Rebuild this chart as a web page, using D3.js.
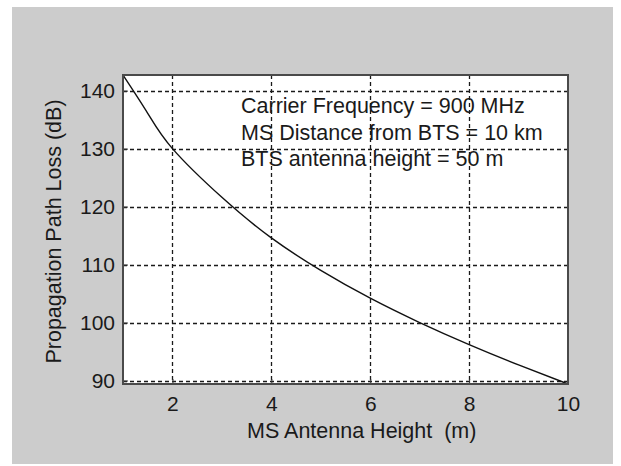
<!DOCTYPE html>
<html>
<head>
<meta charset="utf-8">
<script src="https://cdn.jsdelivr.net/npm/d3@7"></script>
<style>
  html, body { margin: 0; padding: 0; background: #ffffff; }
  svg { display: block; }
  text { font-family: "Liberation Sans", Arial, sans-serif; fill: #1a1a1a; white-space: pre; }
</style>
</head>
<body>
<svg id="chart" width="621" height="466"></svg>
<script>
// Data
const heights = [1, 1.5, 2, 3, 4, 5, 6, 7, 8, 9, 10];                       // MS antenna height (m)
const pathLoss = [142.7, 136.1, 130.0, 121.6, 114.6, 109.0, 104.2, 100.0, 96.2, 92.7, 89.4]; // dB
const xTicks = [2, 4, 6, 8, 10];
const yTicks = [90, 100, 110, 120, 130, 140];
const annotations = [
  "Carrier Frequency = 900 MHz",
  "MS Distance from BTS = 10 km",
  "BTS antenna height = 50 m"
];
const xTitle = "MS Antenna Height  (m)";
const yTitle = "Propagation Path Loss (dB)";

const svg = d3.select("#chart");
// figure background
svg.append("rect").attr("x", 12).attr("y", 7).attr("width", 601).attr("height", 457).attr("fill", "#cccccc");

const plot = { left: 123, right: 568, top: 75, bottom: 384 };
const x = d3.scaleLinear().domain(d3.extent(heights)).range([plot.left, plot.right]);
const y = d3.scaleLinear().domain(d3.extent(pathLoss)).range([plot.bottom, plot.top]);

// plot area
svg.append("rect")
  .attr("x", plot.left).attr("y", plot.top)
  .attr("width", plot.right - plot.left).attr("height", plot.bottom - plot.top)
  .attr("fill", "#ffffff");

// grid
const grid = svg.append("g").attr("stroke", "#1a1a1a").attr("stroke-width", 1.3).attr("stroke-dasharray", "4,3");
grid.selectAll("line.v").data(xTicks.filter(d => d < 10)).join("line")
  .attr("x1", d => Math.round(x(d)) + 0.5).attr("x2", d => Math.round(x(d)) + 0.5)
  .attr("y1", plot.top).attr("y2", plot.bottom);
grid.selectAll("line.h").data(yTicks).join("line")
  .attr("y1", d => Math.round(y(d)) + 0.5).attr("y2", d => Math.round(y(d)) + 0.5)
  .attr("x1", plot.left).attr("x2", plot.right);

// curve
const line = d3.line().x((d, i) => x(heights[i])).y(d => y(d)).curve(d3.curveNatural);
svg.append("path").datum(pathLoss).attr("d", line)
  .attr("fill", "none").attr("stroke", "#111").attr("stroke-width", 1.4);

// axes with inward ticks
const xAxis = d3.axisBottom(x).tickValues(xTicks).tickSize(-5).tickPadding(12).tickFormat(d3.format("d"));
const yAxis = d3.axisLeft(y).tickValues(yTicks).tickSize(-5).tickPadding(8).tickFormat(d3.format("d"));
const gx = svg.append("g").attr("transform", `translate(0,${plot.bottom})`).call(xAxis);
const gy = svg.append("g").attr("transform", `translate(${plot.left},0)`).call(yAxis);
[gx, gy].forEach(g => {
  g.select(".domain").remove();
  g.selectAll(".tick line").attr("stroke", "#333");
  g.selectAll(".tick text").style("font-size", "21px").attr("fill", "#1a1a1a");
});
gx.selectAll(".tick text").attr("dy", "0.71em");

// box
svg.append("rect")
  .attr("x", plot.left).attr("y", plot.top)
  .attr("width", plot.right - plot.left).attr("height", plot.bottom - plot.top)
  .attr("fill", "none").attr("stroke", "#4a4a4a").attr("stroke-width", 2);

// annotation text
svg.append("g").selectAll("text").data(annotations).join("text")
  .attr("x", 241).attr("y", (d, i) => 113 + i * 26.5)
  .style("font-size", "21.5px")
  .text(d => d);

// axis titles
svg.append("text").attr("x", 247).attr("y", 438).style("font-size", "21.5px").text(xTitle);
svg.append("text")
  .attr("transform", `translate(61,${(plot.top + plot.bottom) / 2 + 2}) rotate(-90)`)
  .attr("text-anchor", "middle").style("font-size", "21.5px").text(yTitle);
</script>
</body>
</html>
